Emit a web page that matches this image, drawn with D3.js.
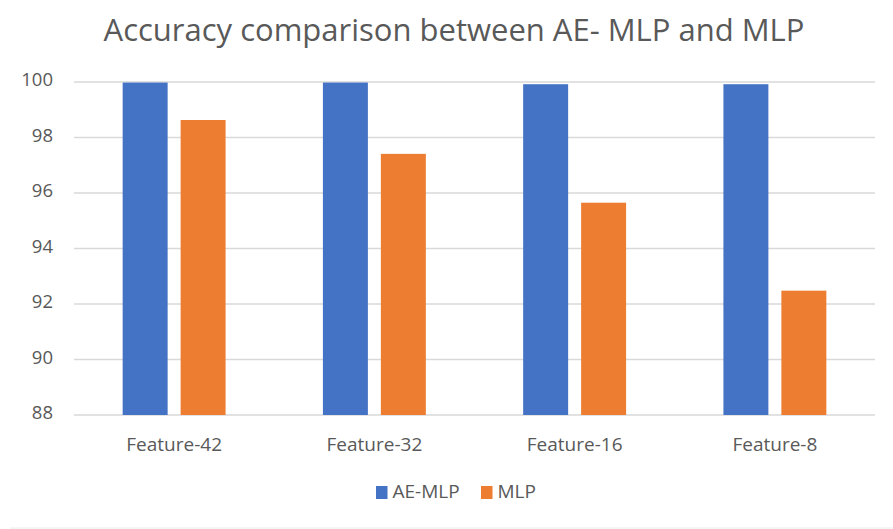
<!DOCTYPE html>
<html>
<head>
<meta charset="utf-8">
<script src="https://cdn.jsdelivr.net/npm/d3@7"></script>
<style>
  body { margin: 0; background: #fff; }
  svg { display: block; }
</style>
</head>
<body>
<div id="chart"></div>
<script>
// data
const categories = ['Feature-42', 'Feature-32', 'Feature-16', 'Feature-8']
const seriesNames = ['AE-MLP', 'MLP']
const aeMlp = [99.98, 99.98, 99.92, 99.92]
const mlp = [98.63, 97.41, 95.65, 92.48]
const yTicks = [88, 90, 92, 94, 96, 98, 100]

const colors = { 'AE-MLP': '#4472C4', 'MLP': '#ED7D31' }
const textColor = '#595959'
const font = '"Open Sans", "Liberation Sans", sans-serif'

const width = 893, height = 529
const plot = { left: 74, right: 875, top: 82, bottom: 415 }

const svg = d3.select('#chart').append('svg')
    .attr('width', width)
    .attr('height', height)

svg.append('rect').attr('width', width).attr('height', height).attr('fill', '#fff')

// title
svg.append('text')
    .attr('x', 454)
    .attr('y', 41)
    .attr('text-anchor', 'middle')
    .attr('font-family', font)
    .attr('font-size', 31)
    .attr('fill', textColor)
    .text('Accuracy comparison between AE- MLP and MLP')

// scales
const x0 = d3.scaleBand().domain(categories).range([plot.left, plot.right]).paddingInner(0.486).paddingOuter(0.243)
const x1 = d3.scaleBand().domain(seriesNames).range([0, x0.bandwidth()]).paddingInner(0.224)
const y = d3.scaleLinear().domain([88, 100]).range([plot.bottom, plot.top])

// gridlines
svg.append('g')
    .selectAll('line')
    .data(yTicks)
    .join('line')
    .attr('x1', plot.left)
    .attr('x2', plot.right)
    .attr('y1', d => y(d))
    .attr('y2', d => y(d))
    .attr('stroke', '#d9d9d9')
    .attr('stroke-width', 1.3)

// y axis labels
const yAxis = d3.axisLeft(y).tickValues(yTicks).tickSize(0).tickPadding(0)
svg.append('g')
    .attr('transform', 'translate(53,-2)')
    .call(yAxis)
    .call(g => g.select('.domain').remove())
    .call(g => g.selectAll('text')
        .attr('font-family', font)
        .attr('font-size', 18.5)
        .attr('fill', textColor))

// x axis labels
const xAxis = d3.axisBottom(x0).tickSize(0).tickPadding(0)
svg.append('g')
    .attr('transform', 'translate(0,437)')
    .call(xAxis)
    .call(g => g.select('.domain').remove())
    .call(g => g.selectAll('text')
        .attr('font-family', font)
        .attr('font-size', 19)
        .attr('fill', textColor))

// bars
const rows = categories.map((c, i) => ({ cat: c, values: [
    { name: 'AE-MLP', value: aeMlp[i] },
    { name: 'MLP', value: mlp[i] }
] }))

svg.append('g')
    .selectAll('g')
    .data(rows)
    .join('g')
    .attr('transform', d => 'translate(' + x0(d.cat) + ',0)')
    .selectAll('rect')
    .data(d => d.values)
    .join('rect')
    .attr('x', d => x1(d.name))
    .attr('y', d => y(d.value))
    .attr('width', x1.bandwidth())
    .attr('height', d => y(88) - y(d.value))
    .attr('fill', d => colors[d.name])

// legend
const legendItems = [
    { name: 'AE-MLP', x: 376 },
    { name: 'MLP', x: 481 }
]
const legend = svg.append('g')
legend.selectAll('rect')
    .data(legendItems)
    .join('rect')
    .attr('x', d => d.x)
    .attr('y', 486)
    .attr('width', 11.5)
    .attr('height', 13)
    .attr('fill', d => colors[d.name])
legend.selectAll('text')
    .data(legendItems)
    .join('text')
    .attr('x', d => d.x + 16.5)
    .attr('y', 497.5)
    .attr('font-family', font)
    .attr('font-size', 19)
    .attr('fill', textColor)
    .text(d => d.name)

// faint frame edge at the bottom
svg.append('line')
    .attr('x1', 10).attr('x2', width)
    .attr('y1', 528).attr('y2', 528)
    .attr('stroke', '#ececec')
</script>
</body>
</html>
